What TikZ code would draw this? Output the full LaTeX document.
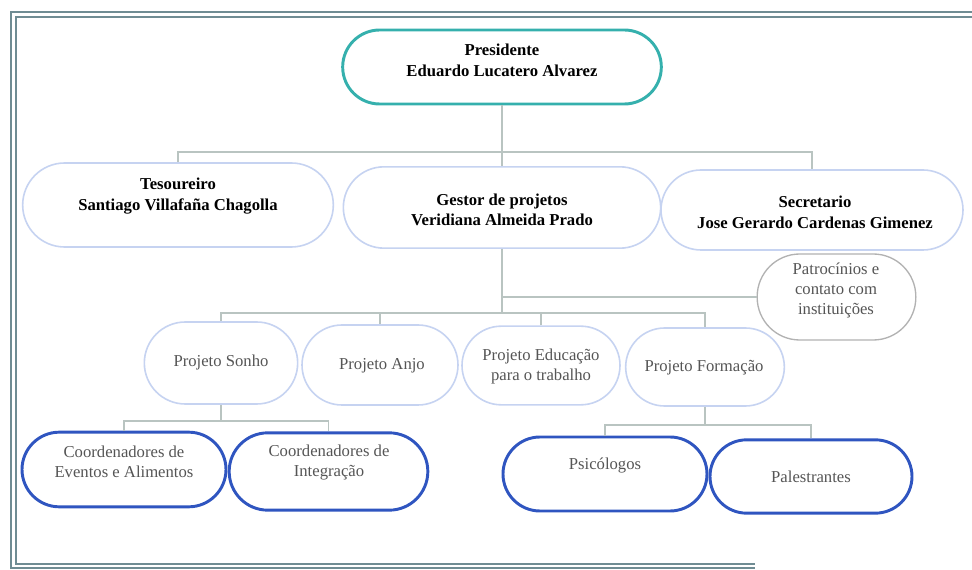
\documentclass[tikz,border=0pt]{standalone}
\usepackage{fontspec}
\setmainfont{Liberation Serif}
\usetikzlibrary{shapes.misc}

\definecolor{teal1}{HTML}{35B0AD}
\definecolor{paleblue}{HTML}{C6D3F1}
\definecolor{deepblue}{HTML}{2F55C0}
\definecolor{linkgrey}{HTML}{B9C4C1}
\definecolor{framegrey}{HTML}{6F8C93}
\definecolor{txtgrey}{HTML}{555555}

\tikzset{
  pill/.style={rounded rectangle, draw=paleblue, line width=1.2pt, fill=white, inner sep=0pt},
  toppill/.style={pill, draw=teal1, line width=2.2pt},
  lowpill/.style={pill, draw=deepblue, line width=2.2pt},
  roundbox/.style={draw=gray!60, line width=1pt, fill=white, rounded corners=32pt, inner sep=0pt},
  boldtxt/.style={font=\fontsize{12.5}{15.5}\selectfont\bfseries, align=center, text=black},
  plaintxt/.style={font=\fontsize{12.5}{15}\selectfont, align=center, text=txtgrey},
  conn/.style={draw=linkgrey, line width=1.1pt},
  framel/.style={draw=framegrey, line width=1.2pt}
}

\begin{document}
\begin{tikzpicture}[x=0.75pt, y=-0.75pt]
\useasboundingbox (0,0) rectangle (972,570);

% double frame
\draw[framel] (972,12) -- (11,12) -- (11,568) -- (755,568);
\draw[framel] (972,17) -- (16,17) -- (16,564) -- (755,564);

% level 1
\node[toppill, minimum width=239pt, minimum height=55.5pt] (pres) at (502,67) {};
\node[boldtxt] at (502,60) {Presidente\\Eduardo Lucatero Alvarez};

% level 2
\node[pill, minimum width=233pt, minimum height=63pt] (tes) at (178,205) {};
\node[boldtxt] at (178,196) {Tesoureiro\\Santiago Villafaña Chagolla};
\node[pill, minimum width=238pt, minimum height=61pt] (gest) at (502,207.5) {};
\node[boldtxt] at (502,210) {Gestor de projetos\\Veridiana Almeida Prado};
\node[pill, minimum width=226.5pt, minimum height=60pt] (sec) at (812,210) {};
\node[boldtxt] at (815,212) {Secretario\\Jose Gerardo Cardenas Gimenez};

% sponsorship
\node[roundbox, minimum width=119pt, minimum height=64.5pt] (patr) at (836.5,297) {};
\node[plaintxt] at (836,290) {Patrocínios e\\contato com\\instituições};

% projects
\node[pill, minimum width=115pt, minimum height=61.5pt] (sonho) at (221,363) {};
\node[plaintxt] at (221,362) {Projeto Sonho};
\node[pill, minimum width=117pt, minimum height=60pt] (anjo) at (380,365) {};
\node[plaintxt] at (382,366) {Projeto Anjo};
\node[pill, minimum width=118.5pt, minimum height=59pt] (educ) at (541,365.5) {};
\node[plaintxt] at (541,366) {Projeto Educação\\para o trabalho};
\node[pill, minimum width=119pt, minimum height=58.5pt] (form) at (705,367) {};
\node[plaintxt] at (704,368) {Projeto Formação};

% teams
\node[lowpill, minimum width=153pt, minimum height=56pt] (coev) at (124,469.5) {};
\node[plaintxt] at (124,462) {Coordenadores de\\Eventos e Alimentos};
\node[lowpill, minimum width=149pt, minimum height=58pt] (coint) at (328.5,471.5) {};
\node[plaintxt] at (329,463) {Coordenadores de\\Integração};
\node[lowpill, minimum width=153pt, minimum height=55.5pt] (psic) at (605,474) {};
\node[plaintxt] at (605,466) {Psicólogos};
\node[lowpill, minimum width=151.5pt, minimum height=55pt] (pal) at (811,476.5) {};
\node[plaintxt] at (811,477) {Palestrantes};

% branch points of the tree
\coordinate (j1) at (502,152);
\coordinate (j2) at (502,313);
\coordinate (j3) at (221,421);
\coordinate (j4) at (705,425);

% connectors
\draw[conn] (pres.south) -- (j1);
\draw[conn] (tes.north) |- (j1) -| (sec.north);
\draw[conn] (j1) -- (gest.north);
\draw[conn] (gest.south) -- (j2);
\draw[conn] (gest.south |- patr.west) -- (patr.west);
\draw[conn] (sonho.north) |- (j2) -| (form.north);
\draw[conn] (anjo.north) -- (anjo.north |- j2);
\draw[conn] (educ.north) -- (educ.north |- j2);
\draw[conn] (sonho.south) -- (j3);
\draw[conn] (coev.north) |- (j3) -| (coint.north);
\draw[conn] (form.south) -- (j4);
\draw[conn] (psic.north) |- (j4) -| (pal.north);
\end{tikzpicture}
\end{document}
